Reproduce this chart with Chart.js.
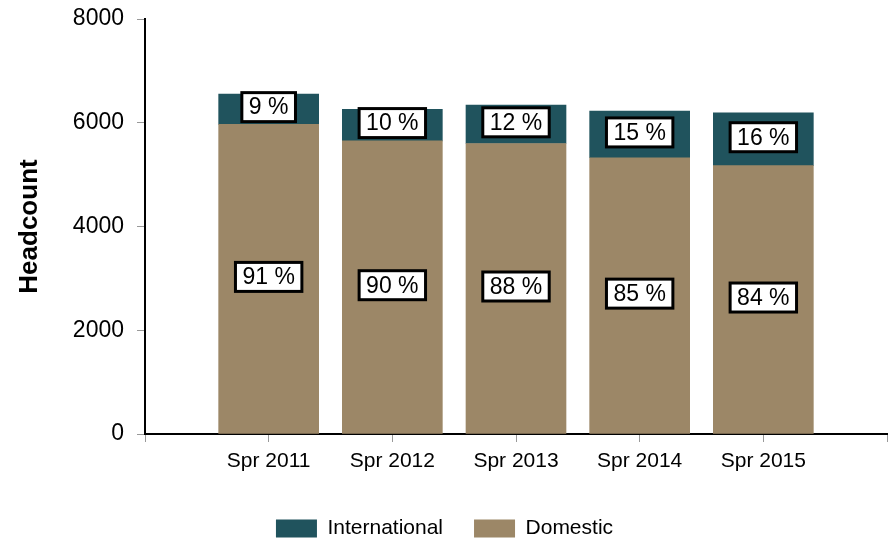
<!DOCTYPE html>
<html>
<head>
<meta charset="utf-8">
<script src="https://cdn.jsdelivr.net/npm/chart.js@4"></script>
<style>
  html, body { margin: 0; padding: 0; background: #fff; overflow: hidden; }
  #wrap { width: 894px; height: 543px; }
</style>
</head>
<body>
<div id="wrap"><canvas id="headcountChart"></canvas></div>
<script>
const categories = ['Spr 2011', 'Spr 2012', 'Spr 2013', 'Spr 2014', 'Spr 2015'];
const domestic = [5970, 5650, 5600, 5325, 5175];
const international = [585, 610, 740, 900, 1015];
const domesticPct = ['91 %', '90 %', '88 %', '85 %', '84 %'];
const internationalPct = ['9 %', '10 %', '12 %', '15 %', '16 %'];
const yTicks = [0, 2000, 4000, 6000, 8000];

const FONT = "'Liberation Sans', Arial, sans-serif";

// empty slot at each end so the bars sit on the tick marks
const labels = [''].concat(categories, ['']);
function pad(arr) { return [null].concat(arr, [null]); }

const boxLabels = {
    id: 'boxLabels',
    afterDatasetsDraw(chart) {
        const ctx = chart.ctx;
        const texts = [domesticPct, internationalPct];
        ctx.save();
        ctx.font = '23px ' + FONT;
        ctx.textAlign = 'center';
        ctx.textBaseline = 'middle';
        chart.data.datasets.forEach(function (ds, di) {
            const meta = chart.getDatasetMeta(di);
            meta.data.forEach(function (bar, i) {
                if (ds.data[i] == null) return;
                const txt = texts[di][i - 1];
                const cx = bar.x;
                const cy = (bar.y + bar.base) / 2 - 2;
                const w = ctx.measureText(txt).width + 14;
                const h = 29;
                ctx.fillStyle = '#fff';
                ctx.fillRect(cx - w / 2, cy - h / 2, w, h);
                ctx.lineWidth = 3;
                ctx.strokeStyle = '#000';
                ctx.strokeRect(cx - w / 2, cy - h / 2, w, h);
                ctx.fillStyle = '#000';
                ctx.fillText(txt, cx, cy + 1);
            });
        });
        ctx.restore();
    }
};

new Chart(document.getElementById('headcountChart'), {
    type: 'bar',
    data: {
        labels: labels,
        datasets: [
            {
                label: 'Domestic',
                data: pad(domestic),
                backgroundColor: '#9c8767',
                barThickness: 100
            },
            {
                label: 'International',
                data: pad(international),
                backgroundColor: '#20535d',
                barThickness: 100
            }
        ]
    },
    options: {
        responsive: true,
        maintainAspectRatio: false,
        animation: false,
        layout: { padding: { top: 19, right: 5, bottom: -6, left: 0 } },
        scales: {
            x: {
                stacked: true,
                offset: false,
                grid: { offset: false, drawOnChartArea: false, drawTicks: true, tickLength: 8, color: '#999', tickColor: '#999' },
                border: { display: true, color: '#000', width: 2 },
                ticks: { color: '#000', font: { family: FONT, size: 21 }, padding: 7, autoSkip: false, maxRotation: 0 },
                afterFit: function (s) { s.height = 53; }
            },
            y: {
                stacked: true,
                min: 0,
                max: 8000,
                afterBuildTicks: function (s) { s.ticks = yTicks.map(function (v) { return { value: v }; }); },
                grid: { drawOnChartArea: false, drawTicks: true, tickLength: 8, color: '#999', tickColor: '#999' },
                border: { display: true, color: '#000', width: 2 },
                ticks: {
                    color: '#000',
                    font: { family: FONT, size: 23 },
                    padding: 13,
                    callback: function (v) { return String(v); }
                },
                title: {
                    display: true,
                    text: 'Headcount',
                    color: '#000',
                    font: { family: FONT, size: 26, weight: 'bold' },
                    padding: { top: 14, bottom: 0 }
                },
                afterFit: function (s) {
                    s.width = 145;
                    s.paddingTop = 0;
                    s.paddingBottom = 0;
                }
            }
        },
        plugins: {
            legend: {
                position: 'bottom',
                reverse: true,
                labels: {
                    color: '#000',
                    font: { family: FONT, size: 21 },
                    boxWidth: 41,
                    boxHeight: 18,
                    padding: 31
                }
            },
            tooltip: { enabled: false }
        }
    },
    plugins: [boxLabels]
});
</script>
</body>
</html>
